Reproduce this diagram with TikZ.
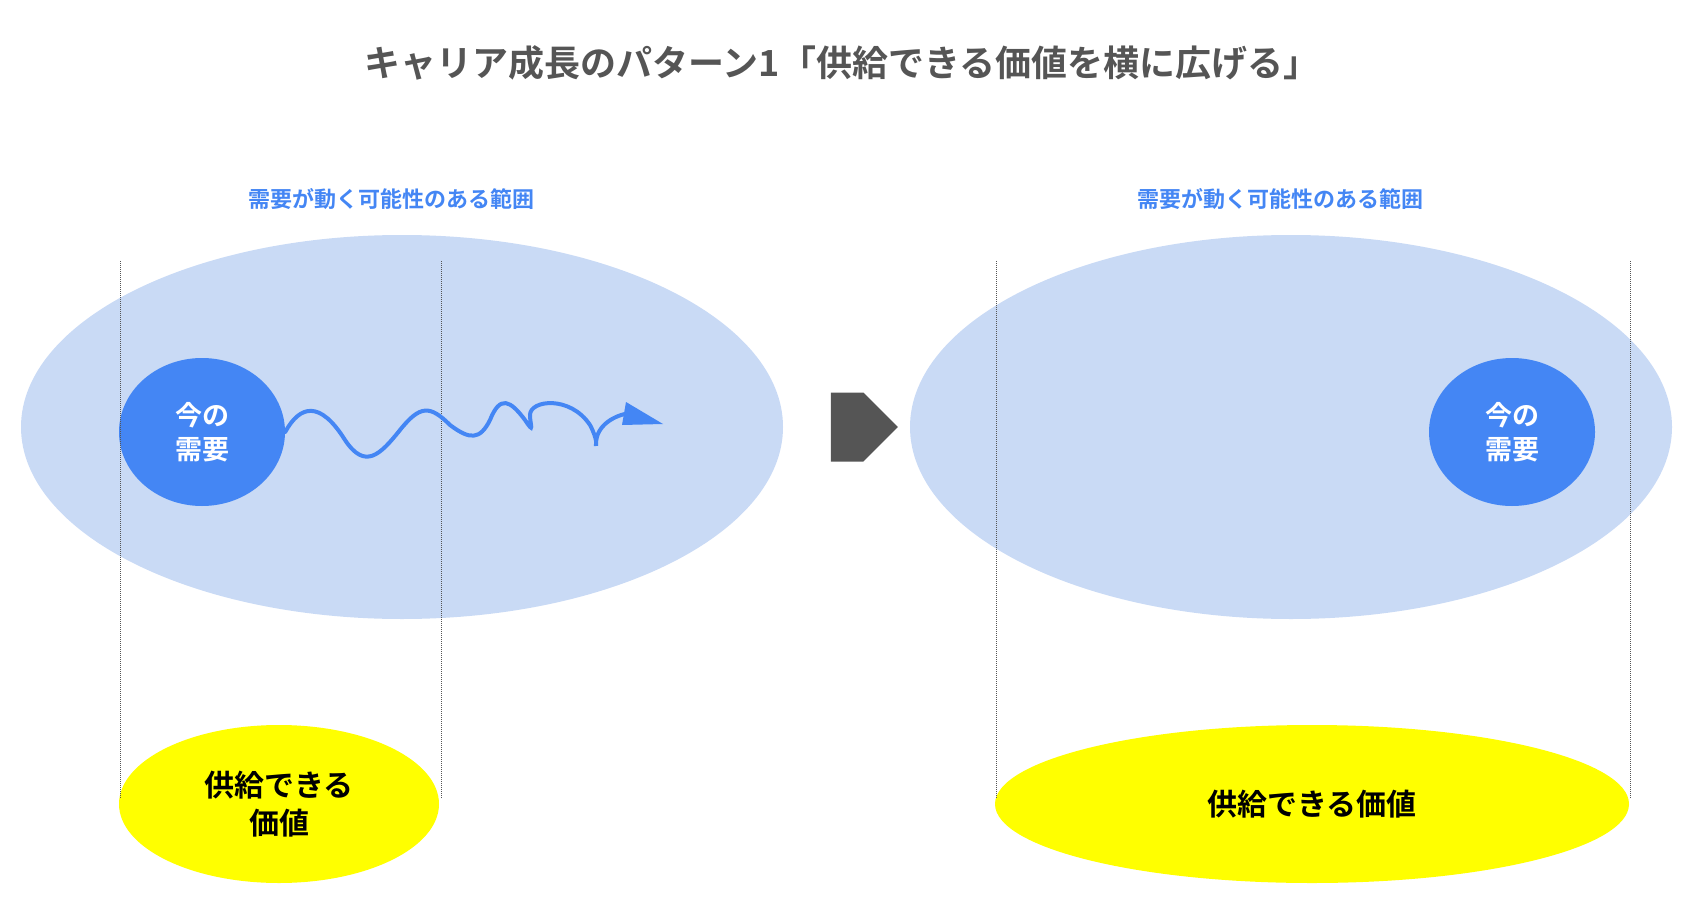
\documentclass[tikz,border=0pt]{standalone}
\usepackage{fontspec}
\usetikzlibrary{shapes.geometric,shapes.arrows}
\setmainfont{Noto Sans CJK JP}
\newfontfamily\jpb{Noto Sans CJK JP Bold}
\definecolor{bigc}{HTML}{C9DAF5}
\definecolor{bluec}{HTML}{4486F4}
\definecolor{grayc}{HTML}{555555}
\definecolor{yel}{HTML}{FFFF00}
\begin{document}
\begin{tikzpicture}[x=1pt,y=-1pt,
  big/.style={ellipse,fill=bigc,minimum width=762pt,minimum height=384pt,inner sep=0},
  now/.style={ellipse,fill=bluec,minimum width=166pt,minimum height=148pt,inner sep=0,text=white,font=\jpb\fontsize{27}{34}\selectfont,align=center},
  supply/.style={ellipse,fill=yel,minimum height=158pt,inner sep=0,font=\jpb\fontsize{30}{38}\selectfont,align=center},
  lbl/.style={text=bluec,font=\jpb\fontsize{22}{26}\selectfont},
  dot/.style={densely dotted,draw=grayc,line width=1pt}]
\useasboundingbox (0,0) rectangle (1696,920);
\node[text=grayc,font=\jpb\fontsize{36}{40}\selectfont] (title) at (842,63) {キャリア成長のパターン1「供給できる価値を横に広げる」};
% left
\node[lbl] (l1) at (391,199) {需要が動く可能性のある範囲};
\node[big] (b1) at (402,427) {};
\node[now] (n1) at (202,432) {今の\\需要};
\node[supply,minimum width=320pt] (s1) at (279,804) {供給できる\\価値};
\coordinate (d1a) at (120,261); \coordinate (d1b) at (120,799);
\coordinate (d2a) at (441,261); \coordinate (d2b) at (441,799);
\draw[dot] (d1a) -- (d1b); \draw[dot] (d2a) -- (d2b);
\coordinate (wend) at (660,424);
\draw[bluec,line width=4pt,line cap=round] (n1.east) .. controls (300,405) and (320,400) .. (345,440)
  .. controls (365,470) and (380,455) .. (400,430) .. controls (420,405) and (430,405) .. (450,425)
  .. controls (470,440) and (480,440) .. (490,420) .. controls (500,395) and (510,400) .. (525,420)
  .. controls (535,435) and (530,425) .. (530,415) .. controls (530,400) and (570,395) .. (590,425)
  .. controls (598,440) and (596,446) .. (596,444) .. controls (596,425) and (615,415) .. (630,413);
\fill[bluec] (626,402) -- (663,424) -- (622,425) -- cycle;
% arrow
\node[single arrow,fill=grayc,minimum height=67pt,minimum width=69pt,single arrow head extend=0pt,inner sep=0,shape border uses incircle=false] (arr) at (847,427) {};
% right
\node[lbl] (l2) at (1280,199) {需要が動く可能性のある範囲};
\node[big] (b2) at (1291,427) {};
\node[now] (n2) at (1512,432) {今の\\需要};
\node[supply,minimum width=634pt] (s2) at (1312,804) {供給できる価値};
\coordinate (d3a) at (996,261); \coordinate (d3b) at (996,799);
\coordinate (d4a) at (1630,261); \coordinate (d4b) at (1630,799);
\draw[dot] (d3a) -- (d3b); \draw[dot] (d4a) -- (d4b);
\end{tikzpicture}
\end{document}
